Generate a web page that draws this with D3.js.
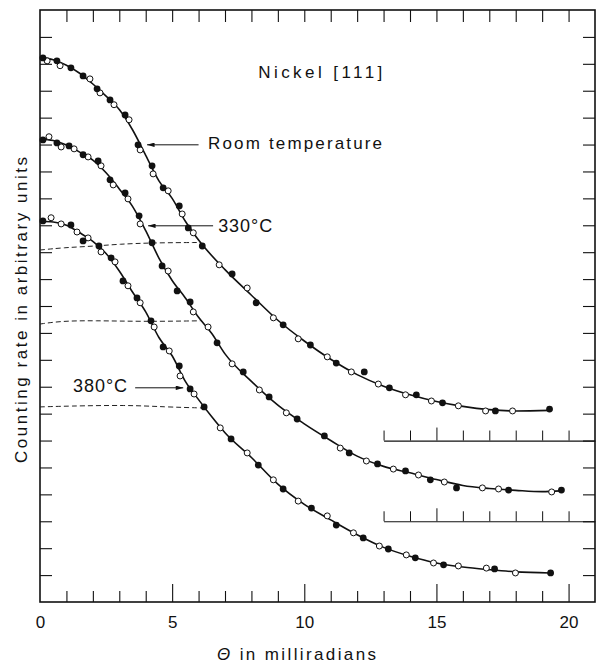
<!DOCTYPE html>
<html>
<head>
<meta charset="utf-8">
<script src="https://cdn.jsdelivr.net/npm/d3@7"></script>
<style>
  body { margin: 0; background: #fff; }
</style>
</head>
<body>
<svg class="chart"></svg>
<script>
/*
  DATA: counting rate (arbitrary units, curves offset by 6 and 3)
  against tilt angle theta in milliradians. Filled and open dots
  are the two measuring runs, the fit is the drawn solid curve.
*/
var roomFilled = [[0.11,20.22],[0.64,20.11],[1.17,19.85],[1.63,19.55],[2.16,19.07],[2.65,18.66],[3.22,18.10],[3.71,16.99],[4.24,16.21],[4.66,15.39],[5.27,14.72],[5.61,13.90],[6.14,13.23],[7.27,12.19],[8.18,11.12],[9.20,10.30],[10.23,9.55],[11.21,8.88],[12.27,8.55],[13.22,7.96],[14.24,7.70],[15.23,7.40],[17.23,7.10],[19.28,7.17]];
var roomOpen = [[0.27,20.11],[0.76,19.93],[1.89,19.44],[2.27,18.92],[2.80,18.48],[3.37,17.92],[3.79,16.80],[4.28,15.91],[4.85,15.28],[5.38,14.42],[5.80,13.72],[6.78,12.53],[7.84,11.67],[8.83,10.56],[9.77,9.78],[10.87,9.11],[11.78,8.55],[12.80,8.10],[13.83,7.70],[14.81,7.47],[15.83,7.29],[16.86,7.10],[17.88,7.10]];
var roomFit = [[0,20.25],[0.5,20.15],[1,19.95],[1.5,19.65],[2,19.25],[2.5,18.8],[3,18.3],[3.5,17.55],[4,16.6],[4.5,15.65],[5,15.0],[5.5,14.15],[6,13.45],[7,12.35],[8,11.4],[9,10.47],[10,9.7],[11,9.02],[12,8.45],[13,8.02],[14,7.7],[15,7.45],[16,7.27],[17,7.15],[18,7.1],[19.3,7.12]];

var midFilled = [[0.11,17.17],[0.64,17.06],[1.10,16.95],[1.63,16.62],[2.20,16.39],[2.65,15.69],[3.22,15.20],[3.75,14.35],[4.24,13.35],[4.62,12.49],[5.19,11.56],[5.68,11.15],[6.70,9.63],[7.69,8.55],[8.67,7.62],[9.73,6.80],[10.76,6.17],[11.70,5.54],[12.77,5.13],[13.83,4.87],[14.77,4.54],[15.76,4.24],[17.73,4.16],[19.73,4.16]];
var midOpen = [[0.34,17.29],[0.80,16.91],[1.29,16.84],[1.82,16.54],[2.31,16.21],[2.77,15.50],[3.33,14.98],[3.79,14.05],[4.85,12.30],[5.80,10.78],[6.36,10.22],[7.27,8.85],[8.30,7.88],[9.32,7.03],[11.36,5.72],[12.35,5.24],[13.37,4.94],[14.32,4.72],[15.30,4.46],[16.74,4.24],[17.35,4.20],[19.36,4.09]];
var midFit = [[0,17.2],[0.5,17.15],[1,16.98],[1.5,16.72],[2,16.42],[2.5,15.95],[3,15.35],[3.5,14.7],[4,13.8],[4.5,12.78],[5,11.95],[5.5,11.3],[6,10.58],[6.5,9.98],[7,9.22],[8,8.2],[9,7.32],[10,6.62],[11,6.0],[12,5.42],[13,5.04],[14,4.8],[15,4.55],[16,4.33],[17,4.22],[18,4.15],[19,4.1],[19.7,4.13]];

var hotFilled = [[0.11,14.16],[1.17,14.01],[1.63,13.42],[2.23,13.23],[2.69,12.79],[3.14,11.93],[3.67,11.30],[4.20,10.45],[4.66,9.48],[5.27,8.77],[5.68,7.92],[6.21,7.25],[7.23,6.06],[8.26,5.09],[9.20,4.20],[10.27,3.49],[11.21,2.86],[12.23,2.38],[13.18,1.97],[14.20,1.64],[15.27,1.38],[17.20,1.23],[19.32,1.08]];
var hotOpen = [[0.42,14.28],[0.80,14.05],[1.40,13.75],[1.82,13.53],[2.31,13.01],[2.84,12.64],[3.33,11.75],[3.79,11.12],[4.32,10.22],[4.89,9.33],[5.30,8.40],[5.83,7.73],[6.82,6.47],[7.84,5.54],[8.83,4.54],[9.77,3.75],[10.87,3.20],[11.86,2.57],[12.84,2.08],[13.86,1.75],[14.89,1.45],[15.83,1.34],[16.89,1.26],[17.99,1.08]];
var hotFit = [[0,14.15],[0.5,14.12],[1,14.0],[1.5,13.72],[2,13.4],[2.5,12.95],[3,12.3],[3.5,11.52],[4,10.78],[4.5,9.83],[5,9.15],[5.5,8.2],[6,7.52],[6.5,6.88],[7,6.29],[8,5.37],[9,4.38],[10,3.63],[11,3.05],[12,2.5],[13,2.03],[14,1.7],[15,1.45],[16,1.3],[17,1.2],[18,1.12],[19.3,1.08]];

// dashed levels on the left
var dashRoom = [[0,13.08],[0.9,13.17],[2,13.22],[3,13.3],[4.3,13.35],[6.06,13.36]];
var dashMid = [[0,10.33],[0.8,10.44],[2,10.46],[4,10.42],[6.06,10.45]];
var dashHot = [[0,7.25],[1,7.28],[3.3,7.32],[4.7,7.25],[6.17,7.21]];

// zero levels of the shifted curves, with their own short scales
var baseOffsets = [6, 3];
var baseTicks = [13, 14, 15, 16, 17, 18, 19, 20];

// tick values and labels
var xLabelTicks = [0, 5, 10, 15, 20];
var xMinorTicks = [1,2,3,4,5,6,7,8,9,10,11,12,13,14,15,16,17,18,19,20];
var yMinorTicks = [1,2,3,4,5,6,7,8,9,10,11,12,13,14,15,16,17,18,19,20,21];

var labels = ["Nickel [111]", "Room temperature", "330°C", "380°C"];

/*
  SETUP
*/
var margin = {top: 10, right: 1, bottom: 62, left: 40},
  width = 596 - margin.left - margin.right,
  height = 664 - margin.top - margin.bottom;
var font = "'Liberation Sans', Arial, sans-serif";

var chart = d3.select(".chart")
  .attr("width", width + margin.left + margin.right)
  .attr("height", height + margin.top + margin.bottom);
var body = chart.append("g")
  .attr("transform", "translate(" + margin.left + "," + margin.top + ")");

var x = d3.scaleLinear().domain([0, 21]).range([0, width]);
var y = d3.scaleLinear().domain([0, 22]).range([height, 0]);

chart.append("defs").append("marker")
  .attr("id", "head")
  .attr("viewBox", "0 0 10 6")
  .attr("refX", 10).attr("refY", 3)
  .attr("markerWidth", 8).attr("markerHeight", 4.5)
  .attr("markerUnits", "userSpaceOnUse")
  .attr("orient", "auto")
  .append("path")
    .attr("d", "M0,0L10,3L0,6Z")
    .attr("fill", "#111");

function cleanAxis(g) {
  g.select(".domain").remove();
  g.selectAll(".tick line").attr("stroke", "#111").attr("stroke-width", 1.1);
}

// bottom ticks, longer every 5
body.append("g")
  .attr("transform", "translate(0," + height + ")")
  .call(d3.axisBottom(x).tickValues(xMinorTicks).tickSizeInner(-11).tickSizeOuter(0).tickFormat(""))
  .call(cleanAxis)
  .selectAll(".tick line")
    .attr("y2", function(d) { return d % 5 === 0 ? -18 : -11; });

// bottom labels
body.append("g")
  .attr("transform", "translate(0," + height + ")")
  .call(d3.axisBottom(x).tickValues(xLabelTicks).tickSize(0).tickPadding(14))
  .call(cleanAxis)
  .selectAll("text")
    .attr("font-family", font)
    .attr("font-size", 17)
    .attr("fill", "#111");

body.append("g")
  .call(d3.axisTop(x).tickValues(xMinorTicks).tickSizeInner(-12).tickSizeOuter(0).tickFormat(""))
  .call(cleanAxis);
body.append("g")
  .call(d3.axisLeft(y).tickValues(yMinorTicks).tickSizeInner(-12).tickSizeOuter(0).tickFormat(""))
  .call(cleanAxis);
body.append("g")
  .attr("transform", "translate(" + width + ",0)")
  .call(d3.axisRight(y).tickValues(yMinorTicks).tickSizeInner(-12).tickSizeOuter(0).tickFormat(""))
  .call(cleanAxis);

// short zero lines for the two upper curves
var xPart = d3.scaleLinear().domain([13, 21]).range([x(13), x(21)]);
baseOffsets.forEach(function(off) {
  var g = body.append("g")
    .attr("transform", "translate(0," + y(off) + ")")
    .call(d3.axisBottom(xPart).tickValues(baseTicks).tickSizeInner(-10).tickSizeOuter(0).tickFormat(""));
  g.select(".domain").attr("stroke", "#111").attr("stroke-width", 1.2);
  g.selectAll(".tick line")
    .attr("stroke", "#111")
    .attr("y2", function(d) { return d === 15 ? -13 : -10; });
});

// frame
body.append("rect")
  .attr("width", width)
  .attr("height", height)
  .attr("fill", "none")
  .attr("stroke", "#111")
  .attr("stroke-width", 1.6);

/*
  CURVES AND POINTS
*/
var line = d3.line()
  .x(function(d) { return x(d[0]); })
  .y(function(d) { return y(d[1]); })
  .curve(d3.curveMonotoneX);

[dashRoom, dashMid, dashHot].forEach(function(d) {
  body.append("path")
    .attr("d", line.curve(d3.curveBasis)(d))
    .attr("fill", "none")
    .attr("stroke", "#222")
    .attr("stroke-width", 1)
    .attr("stroke-dasharray", "5,3");
});
line.curve(d3.curveMonotoneX);

var series = [
  {fit: roomFit, filled: roomFilled, open: roomOpen},
  {fit: midFit, filled: midFilled, open: midOpen},
  {fit: hotFit, filled: hotFilled, open: hotOpen}
];

series.forEach(function(s) {
  body.append("path")
    .attr("d", line(s.fit))
    .attr("fill", "none")
    .attr("stroke", "#111")
    .attr("stroke-width", 1.6);
  body.append("g").selectAll("circle")
    .data(s.open)
    .enter().append("circle")
      .attr("cx", function(d) { return x(d[0]); })
      .attr("cy", function(d) { return y(d[1]); })
      .attr("r", 3)
      .attr("fill", "#fff")
      .attr("stroke", "#111")
      .attr("stroke-width", 1);
  body.append("g").selectAll("circle")
    .data(s.filled)
    .enter().append("circle")
      .attr("cx", function(d) { return x(d[0]); })
      .attr("cy", function(d) { return y(d[1]); })
      .attr("r", 3.4)
      .attr("fill", "#111");
});

/*
  ANNOTATIONS: text, then arrows pointing at the curves
*/
var textSpots = [
  {x: 8.26, y: 19.48, len: 124, size: 17},
  {x: 6.36, y: 16.84, len: 174, size: 17},
  {x: 6.74, y: 13.75, len: 54, size: 18},
  {x: 1.25, y: 7.81, len: 54, size: 18}
];
labels.forEach(function(t, i) {
  body.append("text")
    .attr("x", x(textSpots[i].x))
    .attr("y", y(textSpots[i].y))
    .attr("font-family", font)
    .attr("font-size", textSpots[i].size)
    .attr("fill", "#111")
    .attr("textLength", textSpots[i].len)
    .attr("lengthAdjust", "spacing")
    .text(t);
});

var arrows = [
  {from: [6.0, 16.99], to: [4.05, 16.99]},
  {from: [6.55, 13.98], to: [4.09, 13.98]},
  {from: [3.6, 7.96], to: [5.42, 7.96]}
];
arrows.forEach(function(a) {
  body.append("line")
    .attr("x1", x(a.from[0])).attr("y1", y(a.from[1]))
    .attr("x2", x(a.to[0])).attr("y2", y(a.to[1]))
    .attr("stroke", "#111")
    .attr("stroke-width", 1)
    .attr("marker-end", "url(#head)");
});

// axis titles
var xTitle = chart.append("text")
  .attr("x", 217)
  .attr("y", 660)
  .attr("font-family", font)
  .attr("font-size", 17)
  .attr("fill", "#111")
  .attr("textLength", 159)
  .attr("lengthAdjust", "spacing");
xTitle.append("tspan").attr("font-style", "italic").text("Θ");
xTitle.append("tspan").text(" in milliradians");

chart.append("text")
  .attr("transform", "translate(27,310) rotate(-90)")
  .attr("text-anchor", "middle")
  .attr("font-family", font)
  .attr("font-size", 17)
  .attr("fill", "#111")
  .attr("textLength", 306)
  .attr("lengthAdjust", "spacing")
  .text("Counting rate in arbitrary units");
</script>
</body>
</html>
